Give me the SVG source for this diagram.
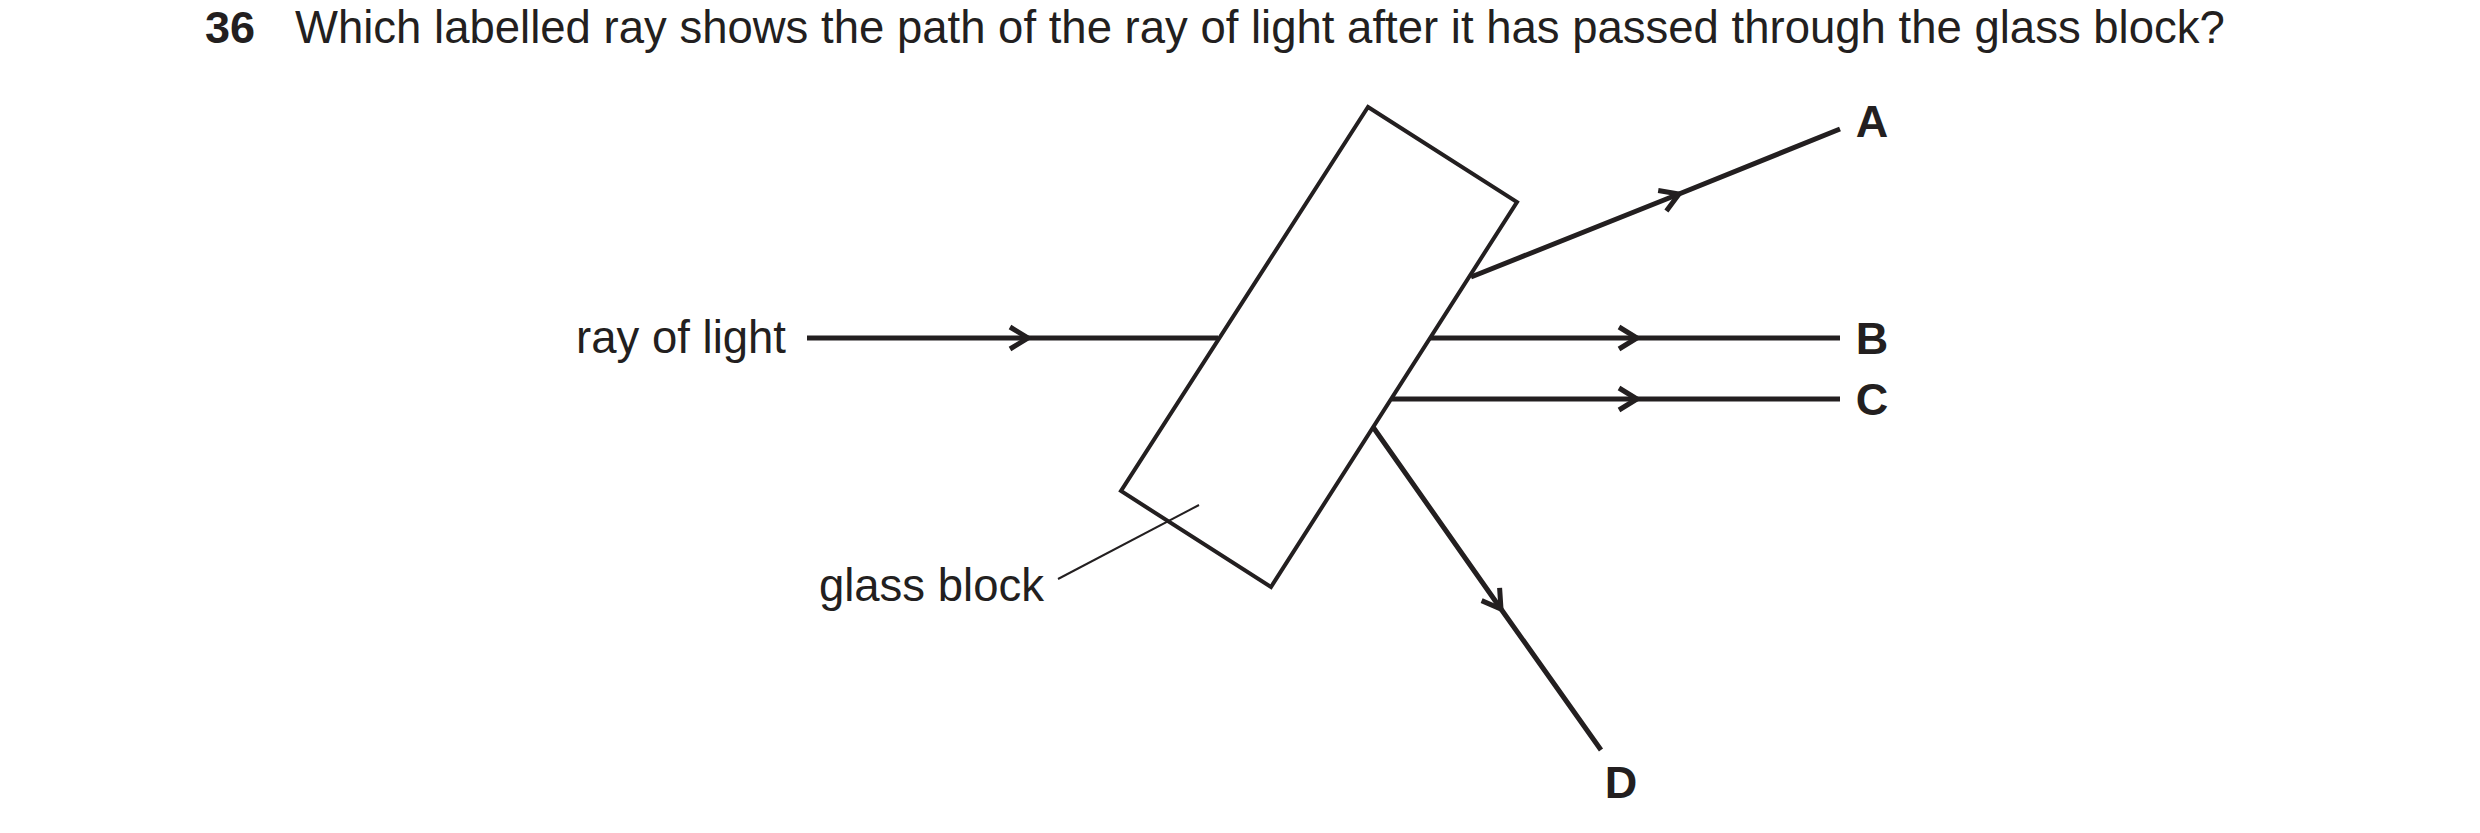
<svg xmlns="http://www.w3.org/2000/svg" width="2480" height="833" viewBox="0 0 2480 833">
<style>
text{font-family:"Liberation Sans",Arial,sans-serif;fill:#231f20}
.t{font-size:45.5px}
.b{font-size:45px;font-weight:bold}
.ray{fill:none;stroke:#231f20;stroke-width:5;marker-mid:url(#chev)}
</style>
<defs>
<marker id="chev" viewBox="-22 -14 26 28" markerWidth="26" markerHeight="28" markerUnits="userSpaceOnUse" orient="auto" refX="0" refY="0">
<path d="M-18,-11 L0,0 L-18,11" fill="none" stroke="#231f20" stroke-width="5"/>
</marker>
</defs>
<rect width="2480" height="833" fill="#fff"/>
<text class="b" x="205" y="43">36</text>
<text class="t" x="295" y="43">Which labelled ray shows the path of the ray of light after it has passed through the glass block?</text>
<g id="glass-block">
<polygon points="1368,107 1517,202 1271,587 1121,491" fill="none" stroke="#231f20" stroke-width="4"/>
<text class="t" x="1044" y="601" text-anchor="end">glass block</text>
<line x1="1058" y1="579" x2="1199" y2="505" stroke="#231f20" stroke-width="2"/>
</g>
<g id="ray-of-light">
<text class="t" x="786" y="353" text-anchor="end">ray of light</text>
</g>
<g id="label-A"><text class="b" x="1872" y="137" text-anchor="middle">A</text></g>
<g id="label-B"><text class="b" x="1872" y="354" text-anchor="middle">B</text></g>
<g id="label-C"><text class="b" x="1872" y="415" text-anchor="middle">C</text></g>
<g id="label-D"><text class="b" x="1621" y="798" text-anchor="middle">D</text></g>
<g id="connectors">
<polyline class="ray" points="807,338 1028,338 1218,338"/>
<polyline class="ray" points="1471,277 1679,194 1840,129"/>
<polyline class="ray" points="1430,338 1637,338 1840,338"/>
<polyline class="ray" points="1392,399 1637,399 1840,399"/>
<polyline class="ray" points="1373,427 1501,609 1601,750"/>
</g>
</svg>
